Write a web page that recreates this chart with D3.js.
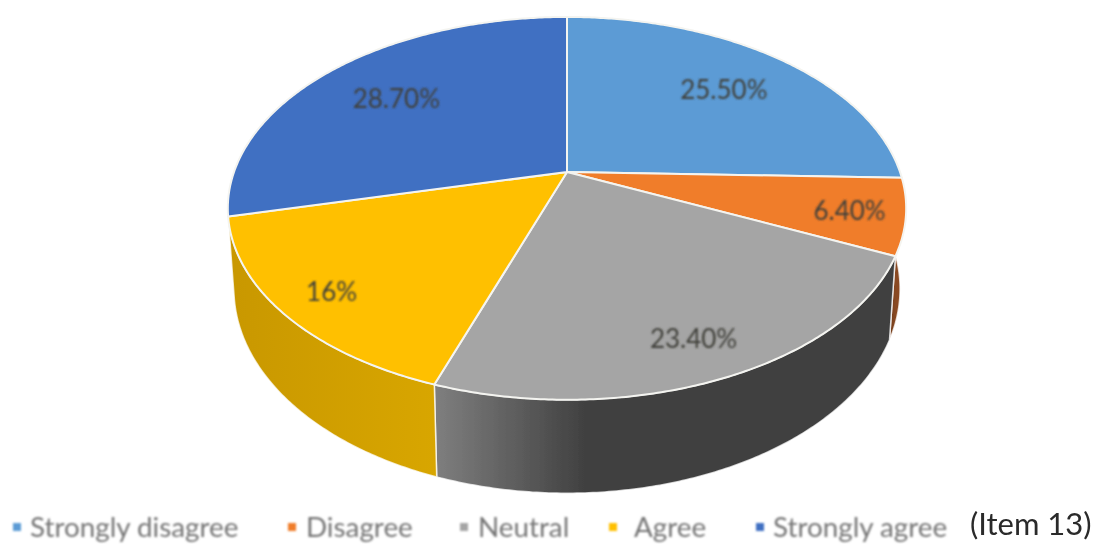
<!DOCTYPE html>
<html lang="en">
<head>
    <meta charset="UTF-8">
    <title>Item 13</title>
    <style>
        html, body { margin: 0; padding: 0; background: #fff; overflow: hidden; }
        text { font-family: Lato, "Open Sans", sans-serif; }
    </style>
</head>
<body>
<script type='text/javascript' src='https://d3js.org/d3.v7.min.js'></script>
<script>
    var categories = ["Strongly disagree", "Disagree", "Neutral", "Agree", "Strongly agree"];
    var values = [25.5, 6.4, 23.4, 16, 28.7];
    var valueLabels = ["25.50%", "6.40%", "23.40%", "16%", "28.70%"];
    var note = "(Item 13)";

    var topColors = ["#5b9bd5", "#f07d2a", "#a5a5a5", "#ffc000", "#3f70c2"];
    var wallFrom = ["#3f74a6", "#8a4a22", "#7f7f7f", "#d8a600", "#2c4f88"];
    var wallTo = ["#3f74a6", "#6e3a1c", "#414141", "#c99800", "#2c4f88"];

    // how far out from the apex each label sits, 1 = rim
    var labelRadius = [0.718, 0.84, 0.83, 0.85, 0.708];
    var legendMarkX = [17, 292, 464, 613, 760];
    var legendTextX = [30, 306, 478, 634, 773];

    const width = 1101;
    const height = 545;
    const tilt = 0.19;   // perspective strength
    const topFace = {cx: 567, cy: 172, rx: 333, ry: 184.5};
    const bottomFace = {cx: 567, cy: 250, rx: 327, ry: 197};

    const svg = d3.select("body")
        .append("svg")
        .attr("width", width)
        .attr("height", height)
        .style("display", "block");

    const defs = svg.append("defs");
    function softFilter(id, amount) {
        defs.append("filter")
            .attr("id", id)
            .attr("x", "-5%").attr("y", "-5%")
            .attr("width", "110%").attr("height", "110%")
            .append("feGaussianBlur")
            .attr("stdDeviation", amount);
    }
    softFilter("soft", 0.7);
    softFilter("softer", 1);

    // angle (clockwise from 12 o'clock) and radius to a point on a face
    function project(face, angle, r) {
        var u = Math.sin(angle) * r;
        var v = -Math.cos(angle) * r;
        var w = 1 - tilt * v;
        return [face.cx + face.rx * u / w, face.cy + face.ry * v / w];
    }

    function rim(face, a0, a1) {
        var n = Math.max(2, Math.ceil((a1 - a0) / 0.01));
        return d3.range(n + 1).map(function(i) {
            return project(face, a0 + (a1 - a0) * i / n, 1);
        });
    }

    var pie = d3.pie().sort(null);
    var slices = pie(values);
    var line = d3.line();

    var chart = svg.append("g").attr("filter", "url(#soft)");

    // walls: only the front of the cylinder shows
    const frontStart = Math.PI / 2;
    const frontEnd = slices[3].endAngle;
    var walls = slices.filter(function(d) {
        return d.endAngle > frontStart && d.startAngle < frontEnd;
    });

    walls.forEach(function(d) {
        var a0 = Math.max(d.startAngle, frontStart);
        var a1 = Math.min(d.endAngle, frontEnd);
        var upper = rim(topFace, a0, a1);
        var lower = rim(bottomFace, a0, a1).reverse();
        var grad = defs.append("linearGradient")
            .attr("id", "wall" + d.index)
            .attr("gradientUnits", "userSpaceOnUse")
            .attr("x1", d.index == 2 ? upper[upper.length - 1][0] : lower[lower.length - 1][0])
            .attr("x2", d.index == 2 ? upper[upper.length - 1][0] + 150 : lower[0][0])
            .attr("y1", 0)
            .attr("y2", 0);
        grad.append("stop").attr("offset", 0).attr("stop-color", wallFrom[d.index]);
        grad.append("stop").attr("offset", 1).attr("stop-color", wallTo[d.index]);
        chart.append("path")
            .attr("d", line(upper.concat(lower)) + "Z")
            .attr("fill", "url(#wall" + d.index + ")")
            .attr("stroke", "#fff")
            .attr("stroke-opacity", 0.75)
            .attr("stroke-width", 1.5);
    });

    // top face
    chart.selectAll("path.slice")
        .data(slices)
        .enter()
        .append("path")
        .attr("class", "slice")
        .attr("d", function(d) {
            var pts = rim(topFace, d.startAngle, d.endAngle);
            pts.push([topFace.cx, topFace.cy]);
            return line(pts) + "Z";
        })
        .attr("fill", function(d) { return topColors[d.index]; })
        .attr("stroke", "#f4f4f0")
        .attr("stroke-width", 2)
        .attr("stroke-linejoin", "round");

    // value labels
    svg.append("g").attr("filter", "url(#softer)")
        .selectAll("text")
        .data(slices)
        .enter()
        .append("text")
        .attr("transform", function(d) {
            var mid = (d.startAngle + d.endAngle) / 2;
            return "translate(" + project(topFace, mid, labelRadius[d.index]) + ")";
        })
        .attr("text-anchor", "middle")
        .attr("dy", "0.43em")
        .attr("font-size", 26)
        .attr("fill", "#40403a")
        .text(function(d) { return valueLabels[d.index]; });

    // legend
    var legend = svg.append("g").attr("filter", "url(#softer)");
    legend.selectAll("rect")
        .data(categories)
        .enter()
        .append("rect")
        .attr("x", function(d, i) { return legendMarkX[i] - 4; })
        .attr("y", 523)
        .attr("width", 8)
        .attr("height", 8)
        .attr("fill", function(d, i) { return topColors[i]; });
    legend.selectAll("text")
        .data(categories)
        .enter()
        .append("text")
        .attr("x", function(d, i) { return legendTextX[i]; })
        .attr("y", 537)
        .attr("font-size", 27.8)
        .attr("fill", "#757575")
        .text(function(d) { return d; });

    svg.append("text")
        .attr("x", 970)
        .attr("y", 535)
        .attr("font-size", 31)
        .attr("fill", "#2a2a2a")
        .attr("filter", "url(#soft)")
        .text(note);
</script>
</body>
</html>
